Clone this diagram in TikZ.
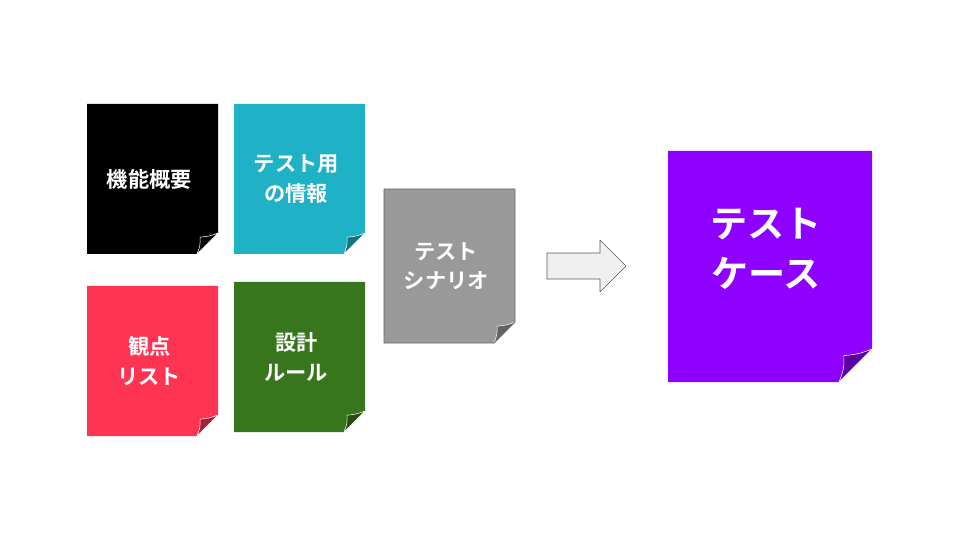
\documentclass[tikz,border=0pt]{standalone}
\usepackage{fontspec}
\setmainfont{Noto Sans CJK JP}[BoldFont={* Bold}]
\definecolor{notecyan}{HTML}{1FB1C6}
\definecolor{notered}{HTML}{FF3352}
\definecolor{notegreen}{HTML}{38761D}
\definecolor{notegray}{HTML}{999999}
\definecolor{notepurple}{HTML}{8E00FF}
\tikzset{
  sheet/.style={line join=round},
  notetext/.style={text=white,font=\bfseries\fontsize{16}{22}\selectfont,align=center,inner sep=0pt},
}
% \stickynote{name}{x1}{y1}{x2}{y2}{fold}{colour}{text}
\newcommand{\stickynote}[8]{
  \fill[sheet,#7] (#2,#3) -- (#4,#3) -- (#4,#5-#6) -- (#4-#6,#5) -- (#2,#5) -- cycle;
  \filldraw[sheet,fill=#7!65!black,draw=white,line width=0.4pt] (#4,#5-#6) .. controls (#4-0.4*#6,#5-0.85*#6) .. (#4-0.85*#6,#5-0.8*#6)
     .. controls (#4-0.85*#6,#5-0.4*#6) .. (#4-#6,#5) -- cycle;
  \node[notetext] (#1) at ({(#2+#4-#6*0.3)/2},{(#3+#5)/2}) {#8};
}
\begin{document}
\begin{tikzpicture}[x=0.0265cm,y=-0.0265cm]
\useasboundingbox (0,0) rectangle (960,540);
\stickynote{overview}{87}{104}{218}{254}{21}{black}{機能概要}
\stickynote{testinfo}{234}{104}{365}{254}{21}{notecyan}{テスト用\\の情報}
\stickynote{viewpoints}{87}{286}{218}{436}{21}{notered}{観点\\リスト}
\stickynote{rules}{234}{282}{365}{432}{21}{notegreen}{設計\\ルール}
\stickynote{scenario}{384}{189}{515}{343}{21}{notegray}{テスト\\シナリオ}
\draw[sheet,gray!80!black,line width=0.6pt] (384,189) -- (515,189) -- (515,322) -- (494,343) -- (384,343) -- cycle;
\stickynote{cases}{668}{151}{872}{382}{33}{notepurple}{}
\node[notetext,font=\bfseries\fontsize{28}{38}\selectfont] (casetext) at (766,249) {テスト\\ケース};
\draw[sheet,fill=gray!12,draw=gray!70!black] (547,253) -- (600,253) -- (600,240) -- (626,266) -- (600,292) -- (600,279) -- (547,279) -- cycle;
\end{tikzpicture}
\end{document}
